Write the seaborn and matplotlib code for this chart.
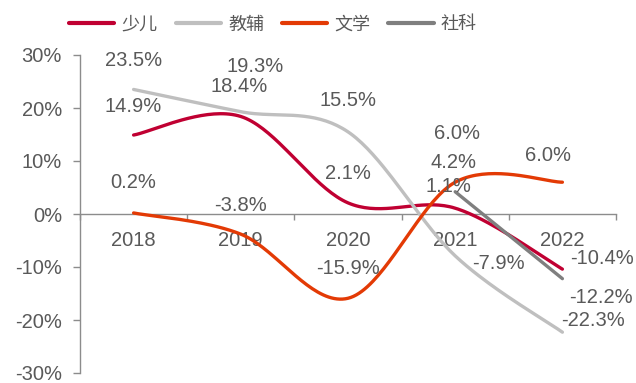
import numpy as np
import matplotlib
matplotlib.use("Agg")
import matplotlib.pyplot as plt
import seaborn as sns

# ---- data ----
years = ["2018", "2019", "2020", "2021", "2022"]
series_names = ["少儿", "教辅", "文学", "社科"]
shaoer = [14.9, 18.4, 2.1, 1.1, -10.4]
jiaofu = [23.5, 19.3, 15.5, -7.9, -22.3]
wenxue = [0.2, -3.8, -15.9, 6.0, 6.0]
sheke = [np.nan, np.nan, np.nan, 4.2, -12.2]
y_ticks = [-30, -20, -10, 0, 10, 20, 30]

# ---- styles / layout ----
colors = ["#C00032", "#BFBFBF", "#E33A05", "#7F7F7F"]
text_color = "#595959"
axis_color = "#8C8C8C"
# label offsets in pixels (dx, dy) per series per year
label_offsets = [
    [(0, 29), (-2, 30), (0, 29), (-7, 22), (40, 11)],
    [(0, 29), (14, 45), (0, 31), (43, -8), (31, 12)],
    [(0, 30), (0, 29), (0, 30), (2, 49), (-14, 27)],
    [None, None, None, (-2, 29), (39, -19)],
]

sns.set_theme(style="white")
plt.rcParams["font.family"] = ["Liberation Sans", "Noto Sans CJK SC", "DejaVu Sans"]


def smooth(xs, ys, n=40):
    P = np.column_stack([xs, ys]).astype(float)
    if len(P) < 3:
        return P
    E = np.vstack([P[0], P, P[-1]])
    t = np.linspace(0, 1, n)[:, None]
    out = []
    for i in range(len(P) - 1):
        p0, p1, p2, p3 = E[i], E[i + 1], E[i + 2], E[i + 3]
        c1 = p1 + (p2 - p0) / 6.0
        c2 = p2 - (p3 - p1) / 6.0
        seg = ((1 - t) ** 3) * p1 + 3 * ((1 - t) ** 2) * t * c1 + 3 * (1 - t) * t ** 2 * c2 + t ** 3 * p2
        out.append(seg if i == 0 else seg[1:])
    return np.vstack(out)


fig = plt.figure(figsize=(6.36, 3.83), dpi=100)
ax = fig.add_axes([80 / 636, 1 - 373 / 383, (616 - 80) / 636, (373 - 55) / 383])

all_series = [shaoer, jiaofu, wenxue, sheke]
xpos = np.arange(len(years))
for k, (name, vals) in enumerate(zip(series_names, all_series)):
    v = np.array(vals, dtype=float)
    m = ~np.isnan(v)
    curve = smooth(xpos[m], v[m])
    sns.lineplot(x=curve[:, 0], y=curve[:, 1], sort=False, estimator=None,
                 color=colors[k], lw=2.4, ax=ax, label=name, zorder=3 + k)
    for j in np.where(m)[0]:
        off = label_offsets[k][j]
        ax.annotate(f"{v[j]:.1f}%", xy=(xpos[j], v[j]), xytext=off,
                    textcoords="offset pixels", ha="center", va="center",
                    fontsize=14.5, color=text_color, zorder=10)

for line in ax.get_lines():
    line.set_solid_capstyle("round")

ax.set_xlim(-0.5, len(years) - 0.5)
ax.set_ylim(-30, 30)
ax.set_yticks(y_ticks)
ax.set_yticklabels([f"{t}%" for t in y_ticks])
ax.set_xticks(np.arange(-0.5, len(years), 1.0))
ax.set_xticklabels([])
ax.set_xticks(xpos, minor=True)
ax.set_xticklabels(years, minor=True)

for s in ["top", "right"]:
    ax.spines[s].set_visible(False)
ax.spines["bottom"].set_position(("data", 0))
for s in ["left", "bottom"]:
    ax.spines[s].set_color(axis_color)
    ax.spines[s].set_linewidth(1.0)

ax.tick_params(axis="y", which="major", direction="out", length=5, width=1,
               color=axis_color, labelsize=14.5, labelcolor=text_color, pad=8, left=True)
ax.tick_params(axis="x", which="major", direction="out", length=4, width=1,
               color=axis_color, bottom=True)
ax.tick_params(axis="x", which="minor", length=0, labelsize=14.5,
               labelcolor=text_color, pad=12)
ax.set_xlabel("")
ax.set_ylabel("")
ax.grid(False)

handles, labels = ax.get_legend_handles_labels()
if ax.get_legend() is not None:
    ax.get_legend().remove()
leg = fig.legend(handles, labels, loc="center", bbox_to_anchor=(273 / 636, 1 - 25 / 383),
                 ncol=4, frameon=False, fontsize=13, handlelength=2.5, handletextpad=0.4,
                 columnspacing=1.0, labelcolor=text_color)
for h in leg.get_lines():
    h.set_linewidth(3.0)

fig.savefig("out.png", dpi=100)
